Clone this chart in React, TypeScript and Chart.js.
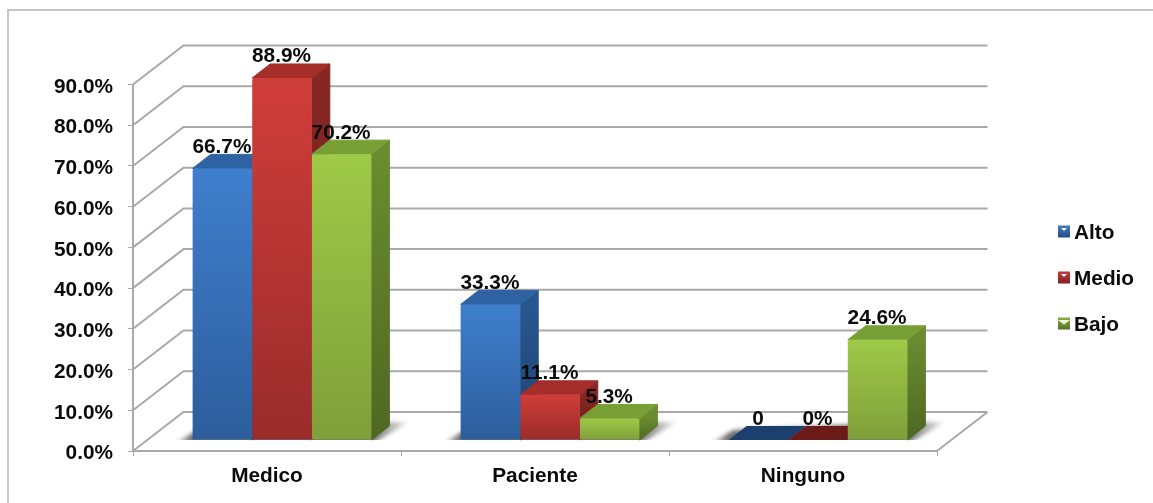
import React, { useEffect, useRef } from "react";
import { Chart, registerables } from "chart.js";

Chart.register(...registerables);

const categories = ["Medico", "Paciente", "Ninguno"];
const altoValues = [66.7, 33.3, 0];
const medioValues = [88.9, 11.1, 0];
const bajoValues = [70.2, 5.3, 24.6];
const altoLabels = ["66.7%", "33.3%", "0"];
const medioLabels = ["88.9%", "11.1%", "0%"];
const bajoLabels = ["70.2%", "5.3%", "24.6%"];

const FONT = "'Liberation Sans', Arial, sans-serif";
const TEXT_SIZE = 20.8;
const TEXT_COLOR = "#0b0b0b";
const GRID_COLOR = "#a9a9a9";

// Projection of the pseudo-3D box: wall depth, bar inset on the floor, bar depth.
const WALL = { x: 50.5, y: -39 };
const INSET = { x: 15, y: -11 };
const BAR = { x: 18, y: -14 };

const series = [
  {
    label: "Alto", values: altoValues, labels: altoLabels,
    front: ["#3f7fcd", "#2d5d9c"], side: ["#28568f", "#1f4473"], top: "#2e62a2", flat: "#1d3f6e",
    swatch: ["#4178bf", "#264f86"], mark: "#ffffff", markWidth: 3,
  },
  {
    label: "Medio", values: medioValues, labels: medioLabels,
    front: ["#d03d3a", "#992c2a"], side: ["#862724", "#6b1e1c"], top: "#a52d2a", flat: "#6c1b19",
    swatch: ["#c43a3a", "#7d2226"], mark: "#ffffff", markWidth: 3,
  },
  {
    label: "Bajo", values: bajoValues, labels: bajoLabels,
    front: ["#9fc948", "#7f9f3a"], side: ["#6a8b30", "#4e6823"], top: "#779f35", flat: "#64842d",
    swatch: ["#8fb044", "#566f28"], mark: "#f2f5dc", markWidth: 6,
  },
];

function polygon(ctx: CanvasRenderingContext2D, pts: number[][]) {
  ctx.beginPath();
  pts.forEach(([x, y], i) => (i ? ctx.lineTo(x, y) : ctx.moveTo(x, y)));
  ctx.closePath();
}

const scenePlugin = {
  id: "scene3d",
  beforeDraw(chart: any) {
    const { ctx } = chart;
    ctx.save();
    ctx.fillStyle = "#ffffff";
    ctx.fillRect(0, 0, chart.width, chart.height);
    ctx.strokeStyle = "#c6c6c6";
    ctx.lineWidth = 2;
    ctx.beginPath();
    ctx.moveTo(8, chart.height);
    ctx.lineTo(8, 10);
    ctx.lineTo(chart.width, 10);
    ctx.stroke();
    ctx.restore();
  },
  beforeDatasetsDraw(chart: any) {
    const { ctx, chartArea, scales } = chart;
    const { left, right, bottom } = chartArea;

    // Side wall and back wall rules, one per tick.
    ctx.save();
    ctx.strokeStyle = GRID_COLOR;
    ctx.lineWidth = 2;
    scales.y.ticks.forEach((tick: any) => {
      const y = scales.y.getPixelForValue(tick.value);
      ctx.beginPath();
      ctx.moveTo(left, y);
      ctx.lineTo(left + WALL.x, y + WALL.y);
      ctx.lineTo(right + WALL.x, y + WALL.y);
      ctx.stroke();
    });
    ctx.beginPath();
    ctx.moveTo(right, bottom);
    ctx.lineTo(right + WALL.x, bottom + WALL.y);
    ctx.stroke();
    ctx.restore();

    // Soft floor shadow under each group of bars, cut off at the bars' base line
    // and fading out towards both ends.
    categories.forEach((_, c) => {
      const first = chart.getDatasetMeta(0).data[c];
      const last = chart.getDatasetMeta(2).data[c];
      const x0 = first.x - first.width / 2 + INSET.x;
      const x1 = last.x + last.width / 2 + INSET.x;
      const y = bottom + INSET.y;
      const span = x1 + 38 - (x0 - 18);
      const fade = ctx.createLinearGradient(x0 - 18, 0, x1 + 38, 0);
      fade.addColorStop(0, "rgba(60,60,60,0.1)");
      fade.addColorStop(18 / span, "rgba(60,60,60,0.75)");
      fade.addColorStop((span - 38) / span, "rgba(60,60,60,0.75)");
      fade.addColorStop(1, "rgba(60,60,60,0.05)");
      ctx.save();
      ctx.beginPath();
      ctx.rect(x0 - 40, y - 40, x1 - x0 + 100, 40);
      ctx.clip();
      ctx.filter = "blur(2px)";
      ctx.fillStyle = fade;
      polygon(ctx, [
        [x0 - 18, y + 3],
        [x1 + 2, y + 3],
        [x1 + 38, y - 18],
        [x1, y - 18],
        [x0 + 5, y - 10],
      ]);
      ctx.fill();
      ctx.restore();
    });

    // Top and side faces; the library paints the front faces over them.
    series.forEach((s, d) => {
      chart.getDatasetMeta(d).data.forEach((bar: any, c: number) => {
        const x0 = bar.x - bar.width / 2 + INSET.x;
        const x1 = bar.x + bar.width / 2 + INSET.x;
        const yTop = bar.y + INSET.y;
        const yBase = bottom + INSET.y;
        const isFlat = s.values[c] === 0;
        ctx.save();
        ctx.lineJoin = "round";
        ctx.lineWidth = 1;
        if (!isFlat) {
          const g = ctx.createLinearGradient(0, yTop, 0, yBase);
          g.addColorStop(0, s.side[0]);
          g.addColorStop(1, s.side[1]);
          polygon(ctx, [
            [x1, yTop],
            [x1 + BAR.x, yTop + BAR.y],
            [x1 + BAR.x, yBase + BAR.y],
            [x1, yBase],
          ]);
          ctx.fillStyle = g;
          ctx.strokeStyle = g;
          ctx.fill();
          ctx.stroke();
        }
        polygon(ctx, [
          [x0, yTop],
          [x0 + BAR.x, yTop + BAR.y],
          [x1 + BAR.x, yTop + BAR.y],
          [x1, yTop],
        ]);
        ctx.fillStyle = isFlat ? s.flat : s.top;
        ctx.strokeStyle = ctx.fillStyle;
        ctx.fill();
        if (!isFlat) ctx.stroke();
        ctx.restore();
      });
    });

    ctx.save();
    ctx.translate(INSET.x, INSET.y);
  },
  afterDatasetsDraw(chart: any) {
    const { ctx } = chart;
    ctx.restore();

    // Value labels above the rear edge of each bar.
    ctx.save();
    ctx.font = `bold ${TEXT_SIZE}px ${FONT}`;
    ctx.fillStyle = TEXT_COLOR;
    ctx.textAlign = "center";
    ctx.textBaseline = "alphabetic";
    series.forEach((s, d) => {
      chart.getDatasetMeta(d).data.forEach((bar: any, c: number) => {
        ctx.fillText(s.labels[c], bar.x + INSET.x - 0.5, bar.y + INSET.y + BAR.y - 1.5);
      });
    });
    ctx.restore();

    // Legend column.
    ctx.save();
    ctx.font = `bold ${TEXT_SIZE}px ${FONT}`;
    ctx.textBaseline = "alphabetic";
    series.forEach((s, d) => {
      const top = 225.5 + d * 46;
      const g = ctx.createLinearGradient(0, top, 0, top + 12);
      g.addColorStop(0, s.swatch[0]);
      g.addColorStop(1, s.swatch[1]);
      ctx.fillStyle = g;
      ctx.fillRect(1058, top, 12, 12);
      ctx.fillStyle = s.mark;
      polygon(ctx, [
        [1064 - s.markWidth, top + 2.5],
        [1064 + s.markWidth, top + 2.5],
        [1064, top + (s.markWidth > 3 ? 7 : 5.5)],
      ]);
      ctx.fill();
      ctx.fillStyle = TEXT_COLOR;
      ctx.textAlign = "left";
      ctx.fillText(s.label, 1074, top + 13);
    });
    ctx.restore();
  },
};

// Nudges a value axis' labels down so they sit level with their tick marks.
function lowerTickLabels(scale: any, dy: number) {
  if (scale.$lowered) return;
  scale.$lowered = true;
  const draw = scale.drawLabels;
  scale.drawLabels = function (area: any) {
    this.ctx.save();
    this.ctx.translate(0, dy);
    draw.call(this, area);
    this.ctx.restore();
  };
}

export default function App() {
  const ref = useRef<HTMLCanvasElement>(null);

  useEffect(() => {
    const frontFill = (s: (typeof series)[number]) => (context: any) => {
      const { chart, dataIndex } = context;
      const yScale = chart.scales.y;
      if (!yScale || dataIndex === undefined) return s.front[0];
      const yTop = yScale.getPixelForValue(s.values[dataIndex]);
      const yBase = yScale.getPixelForValue(0);
      if (!Number.isFinite(yTop) || !Number.isFinite(yBase) || yBase - yTop < 1) return s.front[1];
      const g = chart.ctx.createLinearGradient(0, yTop, 0, yBase);
      g.addColorStop(0, s.front[0]);
      g.addColorStop(1, s.front[1]);
      return g;
    };

    const chart = new Chart(ref.current as HTMLCanvasElement, {
      type: "bar",
      data: {
        labels: categories,
        datasets: series.map((s) => ({
          label: s.label,
          data: s.values,
          backgroundColor: frontFill(s),
          borderWidth: 0,
          borderRadius: { topLeft: 2, topRight: 2, bottomLeft: 0, bottomRight: 0 },
          categoryPercentage: 0.667,
          barPercentage: 1,
          clip: false,
        })),
      },
      options: {
        animation: false,
        responsive: false,
        layout: { padding: { left: 0, top: 84.5, right: 216, bottom: 0 } },
        plugins: { legend: { display: false }, tooltip: { enabled: false } },
        scales: {
          x: {
            afterFit: (scale: any) => { scale.height = 52; },
            grid: { drawOnChartArea: false, drawTicks: true, tickLength: 5, color: GRID_COLOR },
            border: { display: true, color: GRID_COLOR, width: 2 },
            ticks: {
              padding: 8,
              color: TEXT_COLOR,
              font: { family: FONT, size: TEXT_SIZE, weight: "bold" },
            },
          },
          y: {
            min: 0,
            max: 90,
            afterFit: (scale: any) => { scale.width = 133; },
            afterUpdate: (scale: any) => lowerTickLabels(scale, 2.5),
            grid: { drawOnChartArea: false, drawTicks: true, tickLength: 5, color: GRID_COLOR },
            border: { display: true, color: GRID_COLOR, width: 2 },
            ticks: {
              stepSize: 10,
              padding: 15,
              color: TEXT_COLOR,
              font: { family: FONT, size: TEXT_SIZE, weight: "bold" },
              callback: (v: any) => `${Number(v).toFixed(1)}%`,
            },
          },
        },
      },
      plugins: [scenePlugin],
    } as any);

    return () => chart.destroy();
  }, []);

  return (
    <div style={{ position: "fixed", left: 0, top: 0, width: 1153, height: 503 }}>
      <canvas ref={ref} width={1153} height={503} style={{ display: "block" }} />
    </div>
  );
}
